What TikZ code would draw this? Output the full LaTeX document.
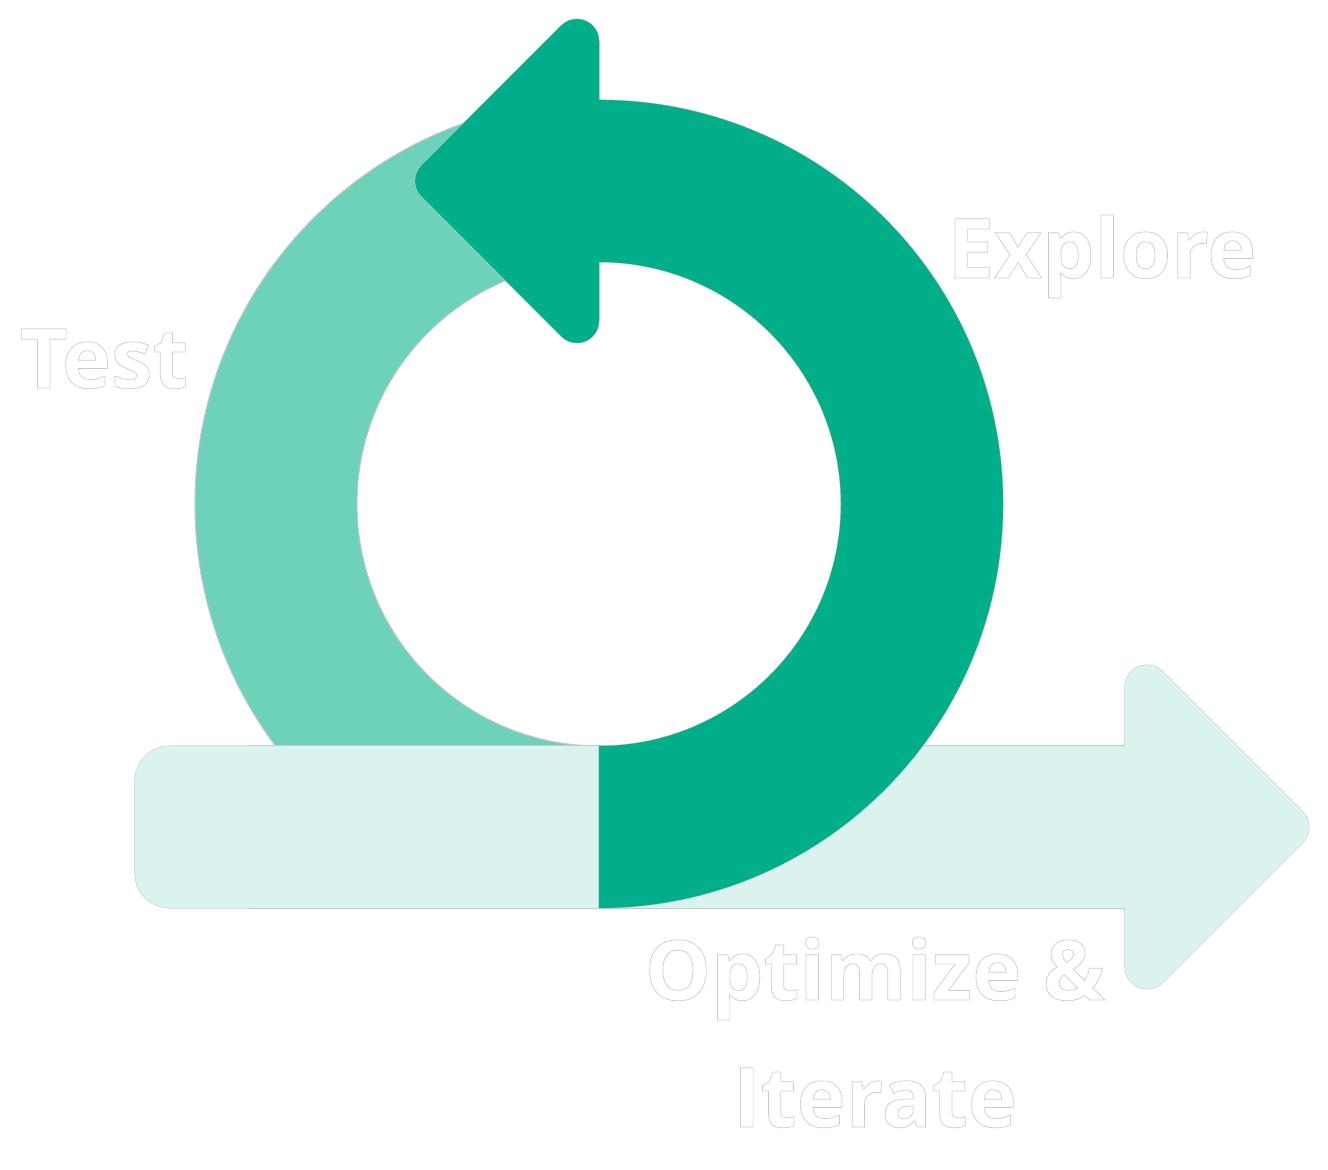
\documentclass[tikz,border=0pt]{standalone}
\usepackage{fontspec}
\setmainfont{Open Sans}
\definecolor{darkgreen}{HTML}{00AF8A}
\definecolor{lightring}{HTML}{6DD2BA}
\definecolor{barcol}{HTML}{DAF3EE}
\definecolor{edgegray}{HTML}{C4C8C6}
\newcommand\outlinedtext[1]{\special{pdf:code q 2 Tr 0.7 w 0.8 G}#1\special{pdf:code Q}}
\tikzset{
  edge/.style={draw=edgegray, line width=1.1pt},
  label/.style={text=white, inner sep=0pt, font=\fontsize{83}{127}\selectfont\bfseries, align=center},
}
% right arrowhead (rounded triangle), left arrowhead (rounded triangle)
\newcommand\rightheadpath{(1125,482.9) arc[start angle=180,end angle=45,radius=22]
  -- ([shift={(1286.9,343)}]45:22) arc[start angle=45,end angle=-45,radius=22]
  -- ([shift={(1147,203.1)}]-45:22) arc[start angle=-45,end angle=-180,radius=22] -- cycle}
\newcommand\leftheadpath{(599,1128.9) arc[start angle=0,end angle=135,radius=22]
  -- ([shift={(437.1,989)}]135:22) arc[start angle=135,end angle=225,radius=22]
  -- ([shift={(577,849.1)}]225:22) arc[start angle=225,end angle=360,radius=22] -- cycle}
\newcommand\darkringpath{(599,1070) arc[start angle=90,end angle=-90,radius=404]
  -- (599,424) arc[start angle=-90,end angle=90,radius=242] -- cycle}
\begin{document}
\begin{tikzpicture}[x=1pt,y=1pt]
\useasboundingbox (0,0) rectangle (1328,1170);
\fill[white] (0,0) rectangle (1328,1170);
% light half ring (left)
\filldraw[fill=lightring, edge] (599,1070) arc[start angle=90,end angle=270,radius=404]
  -- (599,424) arc[start angle=270,end angle=90,radius=242] -- cycle;
% bar and right arrowhead
\filldraw[fill=barcol, edge, rounded corners=35pt] (135,262) rectangle (320,424);
\filldraw[fill=barcol, edge] (250,262) rectangle (1125,424);
\filldraw[fill=barcol, edge] \rightheadpath;
\fill[barcol, rounded corners=35pt] (135,262) rectangle (320,424);
\fill[barcol] (250,262) rectangle (1125,424);
\fill[barcol] \rightheadpath;
% dark half ring (right) and left arrowhead
\filldraw[fill=darkgreen, edge] \darkringpath;
\filldraw[fill=darkgreen, edge] \leftheadpath;
\fill[darkgreen] \darkringpath;
\fill[darkgreen] \leftheadpath;
% labels
\node[label, anchor=base] (explore) at (1102,892) {\outlinedtext{Explore}};
\node[label, anchor=base] (test) at (104,782) {\outlinedtext{Test}};
\node[label, anchor=base] (optimize) at (875,43) {\outlinedtext{Optimize \&}\\\outlinedtext{Iterate}};
\end{tikzpicture}
\end{document}
